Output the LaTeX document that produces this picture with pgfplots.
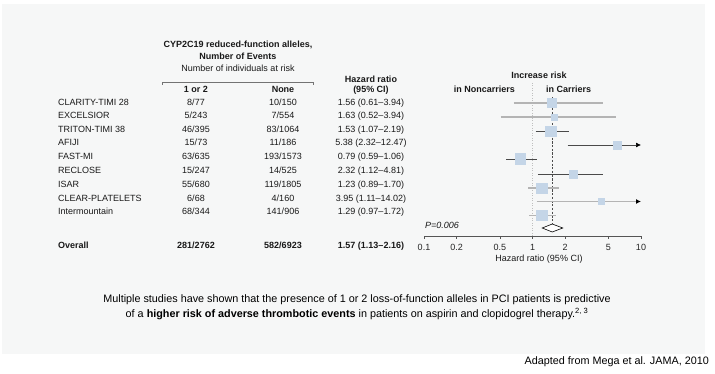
\documentclass[border=0pt]{standalone}
\usepackage{pgfplots}
\pgfplotsset{compat=1.18}
\usepackage{pgfplotstable}
\usepackage{fontspec}
\setmainfont{Liberation Sans}
\usetikzlibrary{arrows.meta}
\definecolor{panel}{HTML}{F6F7F7}
\definecolor{mk}{HTML}{C4D5E7}
\definecolor{cigray}{HTML}{B4B4B4}
\definecolor{cidark}{HTML}{4A4A4A}
\definecolor{ax}{HTML}{555555}
\newcommand\fs{\fontsize{9}{11}\selectfont}
\newcommand\fb{\fontsize{10.8}{13}\selectfont}

% marker positions (hazard ratio, row y in px, half side of square)
\pgfplotstableread{
y hr s
-103 1.51 4.5
-117 1.57 3
-131 1.47 5.2
-145 5.98 4
-159 0.77 5.3
-174 2.35 4
-188 1.22 5.2
-201.5 4.34 3
-215.5 1.22 5.2
}\markers

\begin{document}
\begin{tikzpicture}
\begin{scope}[x=1pt,y=-1pt]
\path[use as bounding box, fill=white] (0,0) rectangle (715,374);
\fill[panel] (2,4) rectangle (705,354);
\end{scope}
\begin{axis}[at={(424pt,-236pt)}, anchor=south west,
  width=217pt, height=176pt, scale only axis,
  xmode=log, log basis x=10, xmin=0.1, xmax=10, ymin=-236, ymax=-60,
  axis x line*=bottom, axis y line=none,
  x axis line style={-, draw=ax, line width=0.6pt},
  xtick={0.1,0.2,0.5,1,2,5,10}, xticklabels={0.1,0.2,0.5,1,2,5,10},
  minor xtick={}, tick align=outside, major tick length=3pt,
  tick style={draw=ax, line width=0.6pt},
  xticklabel style={font=\fs, text=black!85, yshift=-2pt},
  clip=false]
% reference lines
\addplot[draw=black!25, line width=0.5pt, dash pattern=on 1pt off 1.5pt] coordinates {(1,-83) (1,-236)};
\addplot[draw=black!70, line width=0.6pt, dash pattern=on 2.2pt off 1.5pt] coordinates {(1.52,-97) (1.52,-224)};
% confidence intervals
\addplot[draw=cigray, line width=1.8pt] coordinates {(0.675,-103) (4.47,-103)};
\addplot[draw=cigray, line width=1.8pt] coordinates {(0.51,-117) (5.88,-117)};
\addplot[draw=cidark, line width=0.7pt] coordinates {(1.07,-131) (2.19,-131)};
\addplot[draw=cidark, line width=0.7pt, -{Latex[length=5pt,width=5pt,color=black]}] coordinates {(2.11,-145) (10,-145)};
\addplot[draw=cidark, line width=0.7pt] coordinates {(0.57,-159) (1.10,-159)};
\addplot[draw=cidark, line width=0.7pt] coordinates {(1.12,-174) (4.43,-174)};
\addplot[draw=cigray, line width=1.8pt] coordinates {(0.91,-188) (1.76,-188)};
\addplot[draw=cigray, line width=1.8pt, -{Latex[length=5pt,width=5pt,color=black]}] coordinates {(1.09,-201.5) (10,-201.5)};
\addplot[draw=cigray, line width=1.8pt] coordinates {(0.93,-215.5) (1.65,-215.5)};
% squares
\addplot[only marks, mark=square*, scatter,
  scatter/use mapped color={draw=mk, fill=mk},
  visualization depends on={\thisrow{s} \as \msize},
  scatter/@pre marker code/.append style={/tikz/mark size=\msize pt}]
  table[x=hr, y=y] {\markers};
% overall diamond
\addplot[draw=black, fill=white, line width=0.6pt] coordinates {(1.23,-228) (1.52,-224) (1.90,-228) (1.52,-232)} -- cycle;
\end{axis}
\begin{scope}[x=1pt,y=-1pt, every node/.style={font=\fs, inner sep=0pt, text=black!90}]
% header left
\node[font=\fs\bfseries] at (238,45) {CYP2C19 reduced-function alleles,};
\node[font=\fs\bfseries] at (238,56) {Number of Events};
\node at (238,68) {Number of individuals at risk};
\draw[black!55, line width=0.6pt] (162,85) -- (162,82) -- (313,82) -- (313,85);
\node[font=\fs\bfseries] at (196,89) {1 or 2};
\node[font=\fs\bfseries] at (283,89) {None};
\node[font=\fs\bfseries] at (371,79) {Hazard ratio};
\node[font=\fs\bfseries] at (371,90) {(95\% CI)};
\node[font=\fs\bfseries] at (539,75.5) {Increase risk};
\node[font=\fs\bfseries, anchor=east] at (515,89) {in Noncarriers};
\node[font=\fs\bfseries, anchor=west] at (546,89) {in Carriers};
% rows
\foreach \n/\a/\b/\h/\yy in {
 CLARITY-TIMI 28/8\slash 77/10\slash 150/1.56 (0.61--3.94)/102.5,
 EXCELSIOR/5\slash 243/7\slash 554/1.63 (0.52--3.94)/116,
 TRITON-TIMI 38/46\slash 395/83\slash 1064/1.53 (1.07--2.19)/129.5,
 AFIJI/15\slash 73/11\slash 186/5.38 (2.32--12.47)/143,
 FAST-MI/63\slash 635/193\slash 1573/0.79 (0.59--1.06)/157,
 RECLOSE/15\slash 247/14\slash 525/2.32 (1.12--4.81)/170.5,
 ISAR/55\slash 680/119\slash 1805/1.23 (0.89--1.70)/184.5,
 CLEAR-PLATELETS/6\slash 68/4\slash 160/3.95 (1.11--14.02)/198.5,
 Intermountain/68\slash 344/141\slash 906/1.29 (0.97--1.72)/212}{
 \node[anchor=mid west] at (58,\yy) {\n};
 \node[anchor=mid] at (196,\yy) {\a};
 \node[anchor=mid] at (283,\yy) {\b};
 \node[anchor=mid] at (371,\yy) {\h};
}
\node[anchor=mid west, font=\fs\bfseries] at (58,246) {Overall};
\node[anchor=mid, font=\fs\bfseries] at (196,246) {281/2762};
\node[anchor=mid, font=\fs\bfseries] at (283,246) {582/6923};
\node[anchor=mid, font=\fs\bfseries] at (371,246) {1.57 (1.13--2.16)};
\node[anchor=mid west, font=\fs\itshape] at (425,226) {P=0.006};
\node at (539,259) {Hazard ratio (95\% CI)};
% footnote text
\node[font=\fb, text=black] at (357,300) {Multiple studies have shown that the presence of 1 or 2 loss-of-function alleles in PCI patients is predictive};
\node[font=\fb, text=black] at (357,314) {of a \textbf{higher risk of adverse thrombotic events} in patients on aspirin and clopidogrel therapy.\textsuperscript{2, 3}};
\node[font=\fb, text=black, anchor=mid east] at (709,362) {Adapted from Mega et al. JAMA, 2010};
\end{scope}
\end{tikzpicture}
\end{document}
